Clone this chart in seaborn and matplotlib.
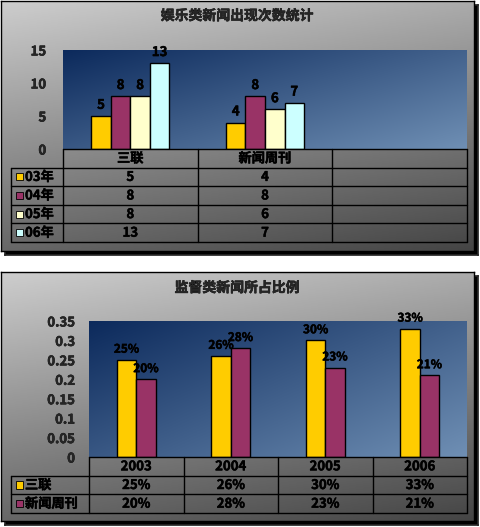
import numpy as np
import pandas as pd
import matplotlib
matplotlib.use("Agg")
import matplotlib.pyplot as plt
import matplotlib.patheffects as pe
import seaborn as sns
from matplotlib.patches import Rectangle
from matplotlib.colors import LinearSegmentedColormap

# data: entertainment news counts
papers = ["三联", "新闻周刊"]
years_top = ["03年", "04年", "05年", "06年"]
counts_03 = [5, 4]
counts_04 = [8, 8]
counts_05 = [8, 6]
counts_06 = [13, 7]
top_colors = ["#FFCC00", "#993366", "#FFFFCC", "#CCFFFF"]

# data: supervision news share
years_bot = ["2003", "2004", "2005", "2006"]
sanlian_share = [0.25, 0.26, 0.30, 0.33]
zhoukan_share = [0.20, 0.28, 0.23, 0.21]
bot_series = ["三联", "新闻周刊"]
bot_colors = ["#FFCC00", "#993366"]

W, H = 480, 527
sns.set_theme(style="white")
plt.rcParams["font.family"] = ["Noto Sans CJK SC", "DejaVu Sans"]
plt.rcParams["font.weight"] = "bold"

BOLD = [pe.withStroke(linewidth=0.35, foreground="black")]
FS = 9.5

fig = plt.figure(figsize=(W / 100, H / 100), dpi=100)
fig.patch.set_facecolor("white")


def add_px(x0, y0, x1, y1, z=0):
    return fig.add_axes([x0 / W, 1 - y1 / H, (x1 - x0) / W, (y1 - y0) / H], zorder=z)


def gradient(ax, c0, c1, wx=0.3, wy=0.7):
    # row 0 = top of the axes
    gx, gy = np.meshgrid(np.linspace(0, 1, 200), np.linspace(0, 1, 200))
    t = wx * gx + wy * gy
    cmap = LinearSegmentedColormap.from_list("g", [c0, c1])
    ax.imshow(t, cmap=cmap, aspect="auto", extent=[0, 1, 0, 1], origin="upper",
              transform=ax.transAxes, zorder=0, vmin=0, vmax=1)


def panel(x0, y0, x1, y1):
    sh = add_px(x0 + 4, y0 + 4, x1 + 4, y1 + 4, z=0)
    sh.set_facecolor("black")
    sh.set_xticks([]); sh.set_yticks([])
    bg = add_px(x0, y0, x1, y1, z=1)
    gradient(bg, "#cdcdcd", "#454545", wx=0.25, wy=0.75)
    bg.set_xticks([]); bg.set_yticks([])
    for s in bg.spines.values():
        s.set_color("black"); s.set_linewidth(1)
    return bg


def plot_area(x0, y0, x1, y1):
    ax = add_px(x0, y0, x1, y1, z=2)
    gradient(ax, "#0c2a5c", "#6f8fb4", wx=0.55, wy=0.45)
    for s in ax.spines.values():
        s.set_visible(False)
    return ax


def btext(ax, x, y, s, **kw):
    t = ax.text(x, y, s, fontsize=FS, fontweight="bold", color="black", **kw)
    t.set_path_effects(BOLD)
    return t


def draw_table(x0, y0, x1, y1, legend_x0, cats, ncols, series, colors, values, fmt):
    tab = add_px(x0, y0, x1, y1, z=3)
    tab.patch.set_alpha(0)
    nrows = len(series) + 1
    tab.set_xlim(-0.5, ncols - 0.5)
    tab.set_ylim(nrows, 0)
    tab.axis("off")
    unit = ncols / (x1 - x0)
    left = -0.5 - (x0 - legend_x0) * unit
    kw = dict(color="black", lw=1, clip_on=False)
    tab.plot([-0.5, ncols - 0.5], [0, 0], **kw)
    for r in range(1, nrows + 1):
        tab.plot([left, ncols - 0.5], [r, r], **kw)
    tab.plot([left, left], [1, nrows], **kw)
    for c in range(ncols + 1):
        tab.plot([c - 0.5, c - 0.5], [0, nrows], **kw)
    for i, cat in enumerate(cats):
        btext(tab, i, 0.5, cat, ha="center", va="center")
    for r, (name, col, vals) in enumerate(zip(series, colors, values), start=1):
        sq = 7 * unit
        tab.add_patch(Rectangle((left + 5 * unit, r + 0.5 - 0.19), sq, 0.38,
                                facecolor=col, edgecolor="black", lw=0.6, clip_on=False))
        btext(tab, left + 14 * unit, r + 0.5, name, ha="left", va="center")
        for i, v in enumerate(vals):
            btext(tab, i, r + 0.5, fmt(v), ha="center", va="center")
    return tab


def style_axis(ax, pad):
    ax.set_xticks([])
    ax.set_xlabel(""); ax.set_ylabel("")
    ax.tick_params(axis="y", length=0, pad=pad, labelsize=FS)
    for t in ax.get_yticklabels():
        t.set_fontweight("bold")
        t.set_path_effects(BOLD)


# ---------- top panel ----------
panel(1, 1, 474, 251)
t = fig.text(237 / W, 1 - 16 / H, "娱乐类新闻出现次数统计", ha="center", va="center",
             fontsize=10, fontweight="bold")
t.set_path_effects(BOLD)
ax1 = plot_area(63, 50, 467, 149)
top_vals = [counts_03, counts_04, counts_05, counts_06]
df_top = pd.DataFrame({
    "paper": np.repeat([papers], len(years_top), axis=0).ravel(),
    "year": np.repeat(years_top, len(papers)),
    "count": np.concatenate(top_vals),
})
sns.barplot(data=df_top, x="paper", y="count", hue="year", order=papers,
            hue_order=years_top, palette=top_colors, width=0.58,
            edgecolor="black", linewidth=1, saturation=1, legend=False, ax=ax1)
ax1.set_xlim(-0.5, 2.5)
ax1.set_ylim(0, 15)
ax1.set_yticks([0, 5, 10, 15])
style_axis(ax1, 12)
for c in ax1.containers:
    for t in ax1.bar_label(c, fmt="%d", padding=3, fontsize=FS, fontweight="bold", color="black"):
        t.set_path_effects(BOLD)
draw_table(63, 149, 467, 242, 11, papers + [""], 3, years_top, top_colors,
           top_vals, lambda v: f"{v:d}")

# ---------- bottom panel ----------
panel(1, 272, 474, 521)
t = fig.text(237 / W, 1 - 288 / H, "监督类新闻所占比例", ha="center", va="center",
             fontsize=10, fontweight="bold")
t.set_path_effects(BOLD)
ax2 = plot_area(89, 321, 467, 457)
bot_vals = [sanlian_share, zhoukan_share]
df_bot = pd.DataFrame({
    "year": years_bot * len(bot_series),
    "series": np.repeat(bot_series, len(years_bot)),
    "share": np.concatenate(bot_vals),
})
sns.barplot(data=df_bot, x="year", y="share", hue="series", order=years_bot,
            hue_order=bot_series, palette=bot_colors, width=0.41,
            edgecolor="black", linewidth=1, saturation=1, legend=False, ax=ax2)
ax2.set_xlim(-0.5, 3.5)
ax2.set_ylim(0, 0.35)
ax2.set_yticks(np.arange(0, 0.351, 0.05))
ax2.yaxis.set_major_formatter(plt.FuncFormatter(lambda v, p: f"{v:g}"))
style_axis(ax2, 10)
for c in ax2.containers:
    for t in ax2.bar_label(c, labels=[f"{b.get_height():.0%}" for b in c], padding=3,
                           fontsize=8.5, fontweight="bold", color="black"):
        t.set_path_effects(BOLD)
draw_table(89, 457, 467, 513, 11, years_bot, 4, bot_series, bot_colors,
           bot_vals, lambda v: f"{v:.0%}")

fig.savefig("out.png", dpi=100)
